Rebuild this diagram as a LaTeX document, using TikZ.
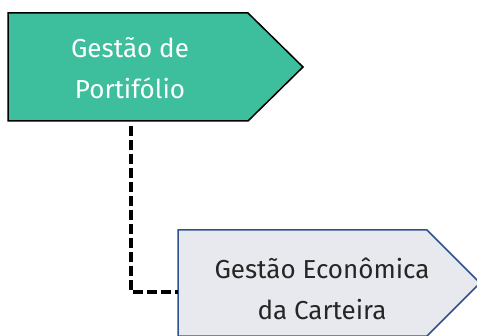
\documentclass[tikz,border=0pt]{standalone}
\usepackage{fontspec}
\setmainfont{Fira Sans}
\usetikzlibrary{calc,backgrounds}
\definecolor{portgreen}{RGB}{61,190,156}
\definecolor{econgray}{RGB}{232,233,238}
\definecolor{econblue}{RGB}{47,82,143}
\begin{document}
\begin{tikzpicture}[x=1pt,y=1pt]
      \tikzset{stepbox/.style={inner sep=0pt,
          outer sep=0pt,
          minimum width=#1,
          rectangle},
        boxtext/.style={align=center,
          font=\fontsize{26}{41}\selectfont},
        link/.style={line width=3.5pt,
          dash pattern=on 10pt off 4pt}
      }
      \useasboundingbox (0,0) rectangle (477,335);
      \node [stepbox=240pt,minimum height=108pt] (P) at (128,268) {};
      \node [stepbox=249pt,minimum height=106pt] (E) at (302.5,52) {};
      \node [boxtext,text=white] (Pt) at (130,267) {Gestão de\\Portifólio};
      \node [boxtext,text=black!85] (Et) at (322,46) {Gestão Econômica\\da Carteira};
      \begin{pgfonlayer}{background}
        \draw [fill=portgreen, line width=1.5pt] (P.north west) -- (P.north east) -- ($(P.east)+(55,0)$) -- (P.south east) -- (P.south west) -- cycle;
        \draw [fill=econgray, draw=econblue, line width=1.5pt] (E.north west) -- (E.north east) -- ($(E.east)+(53,0)$) -- (E.south east) -- (E.south west) -- cycle;
      \end{pgfonlayer}
      \coordinate (a) at ($(P.south west)+(123,-5)$);
      \coordinate (b) at ($(E.west)+(0,-9)$);
      \draw [link] (a) |- (b);
    \end{tikzpicture}
\end{document}
